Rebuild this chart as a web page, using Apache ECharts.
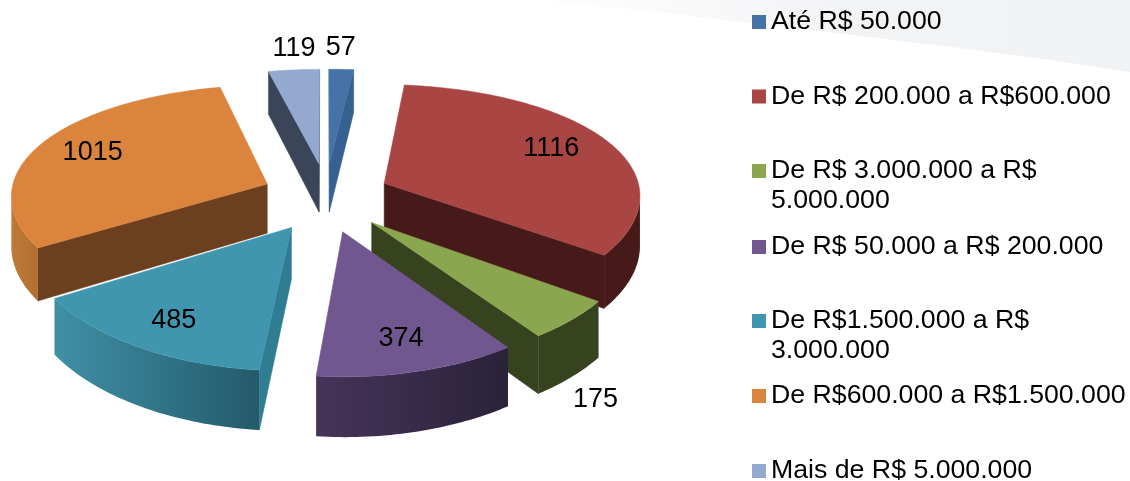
<!DOCTYPE html>
<html><head><meta charset="utf-8">
<style>html,body{margin:0;padding:0;background:#fff}#c{width:1130px;height:481px}</style>
<script src="https://cdn.jsdelivr.net/npm/echarts@6/dist/echarts.min.js"></script>
</head><body><div id="c"></div>
<script>
const categories = ['Até R$ 50.000','De R$ 200.000 a R$600.000','De R$ 3.000.000 a R$\n5.000.000','De R$ 50.000 a R$ 200.000','De R$1.500.000 a R$\n3.000.000','De R$600.000 a R$1.500.000','Mais de R$ 5.000.000'];
const values = [57,1116,175,374,485,1015,119];
const topColors = ['#4573a7','#a94543','#8aa64f','#71578f','#4196af','#db843d','#93a9cf'];
const cutColors = ['#35608f','#471a1a','#37431e','#45345a','#2f7d92','#6c401f','#3b4559'];
const rimColors = [['#35608f','#35608f'],['#471a1a','#471a1a'],['#37431e','#37431e'],['#45345a','#2a2239'],['#3f90a7','#245a6a'],['#c07a38','#b06e30'],['#3b4559','#3b4559']];
const labelRadius = [0.95,0.745,1.11,0.79,0.78,0.77,1.0];
const labelHeight = [1.6,1.05,-0.17,1,0.95,1,1.5];
const legendRowY = [22,96.5,171,247,321,396,471];

const P = {cx:326, cy:247, R:257, kR:122, D:7.5, H:50, exX:0.25, exY:0.3, xPersp:0.7};
const total = values.reduce((a,b)=>a+b,0);
const starts = []; let acc = 0;
values.forEach(v=>{starts.push(acc); acc += v/total*Math.PI*2;});

function proj(X,Y,Z){
  const s = P.D/(P.D-Y);
  return [P.cx + X*P.R*Math.pow(s,P.xPersp), P.cy + (Y*P.kR - Z*P.H)*s];
}
function area(q){let a=0;for(let i=0;i<q.length;i++){const p=q[i],n=q[(i+1)%q.length];a+=p[0]*n[1]-n[0]*p[1];}return a/2;}

function renderSlice(i){
  return function(params, api){
    const v = api.value(0);
    const a1 = starts[i], a2 = a1 + v/total*Math.PI*2, mid=(a1+a2)/2;
    const ox = P.exX*Math.sin(mid), oy = -P.exY*Math.cos(mid);
    const pt = (r,a,z)=>proj(ox+r*Math.sin(a), oy-r*Math.cos(a), z);
    const n = Math.max(4,Math.ceil((a2-a1)/0.02));
    const top=[pt(0,0,1)];
    let visTop=[], visBot=[];
    for(let j=0;j<=n;j++){
      const a=a1+(a2-a1)*j/n; top.push(pt(1,a,1));
      if(j<n){
        const b=a1+(a2-a1)*(j+1)/n;
        const q=[pt(1,a,1),pt(1,b,1),pt(1,b,0),pt(1,a,0)];
        if(area(q)<0){ if(!visTop.length){visTop.push(q[0]);visBot.push(q[3]);} visTop.push(q[1]);visBot.push(q[2]); }
      }
    }
    const children=[];
    const base = Math.round(oy*100+100)*10;
    const poly=(pts,fill,z)=>({type:'polygon',shape:{points:pts},style:{fill:fill,stroke:fill,lineWidth:0.5},z2:z,silent:true});
    const c1=[pt(0,0,1),pt(1,a1,1),pt(1,a1,0),pt(0,0,0)];
    const c2=[pt(1,a2,1),pt(0,0,1),pt(0,0,0),pt(1,a2,0)];
    if(area(c1)<0) children.push(poly(c1,cutColors[i],base+1));
    if(area(c2)<0) children.push(poly(c2,cutColors[i],base+1));
    if(visTop.length){
      const pts=visTop.concat(visBot.slice().reverse());
      const xs=pts.map(p=>p[0]),x0=Math.min(...xs),x1=Math.max(...xs);
      const g=new echarts.graphic.LinearGradient(x0,0,x1,0,[{offset:0,color:rimColors[i][0]},{offset:1,color:rimColors[i][1]}],true);
      children.push({type:'polygon',shape:{points:pts},style:{fill:g},z2:base+2,silent:true});
    }
    children.push(poly(top,topColors[i],base+3));
    const lp=pt(labelRadius[i],mid,labelHeight[i]);
    children.push({type:'text',z2:20000,silent:true,style:{x:lp[0],y:lp[1],text:String(v),fill:'#000',font:'27px "Liberation Sans"',align:'center',verticalAlign:'middle'}});
    return {type:'group',children};
  };
}

const series = values.map((v,i)=>({
  name:categories[i], type:'custom', coordinateSystem:'none', data:[[v]],
  itemStyle:{color:topColors[i]}, renderItem:renderSlice(i), silent:true, animation:false
}));
const legend = categories.map((c,i)=>{
  const two=c.includes('\n');
  return {
    data:[{name:c,icon:'rect'}], left:752, top:legendRowY[i]-(two?45:15), padding:0,
    itemWidth:14,itemHeight:14,selectedMode:false,
    formatter:n=>two?'\n'+n:n,
    textStyle:{color:'#000',fontFamily:'Liberation Sans',fontSize:26.7,lineHeight:30}
  };
});
const chart=echarts.init(document.getElementById('c'),null,{renderer:'canvas'});
chart.setOption({
  backgroundColor:'#fff', animation:false, legend, series,
  graphic:[{type:'polygon',z:-1,silent:true,shape:{points:[[520,0],[640,10],[760,24],[860,36],[960,48],[1050,60],[1130,72],[1130,0]]},
    style:{fill:new echarts.graphic.LinearGradient(520,0,1130,0,[{offset:0,color:'#ffffff'},{offset:0.55,color:'#f2f3f5'},{offset:1,color:'#f1f2f4'}],true)}}]
});
</script></body></html>
